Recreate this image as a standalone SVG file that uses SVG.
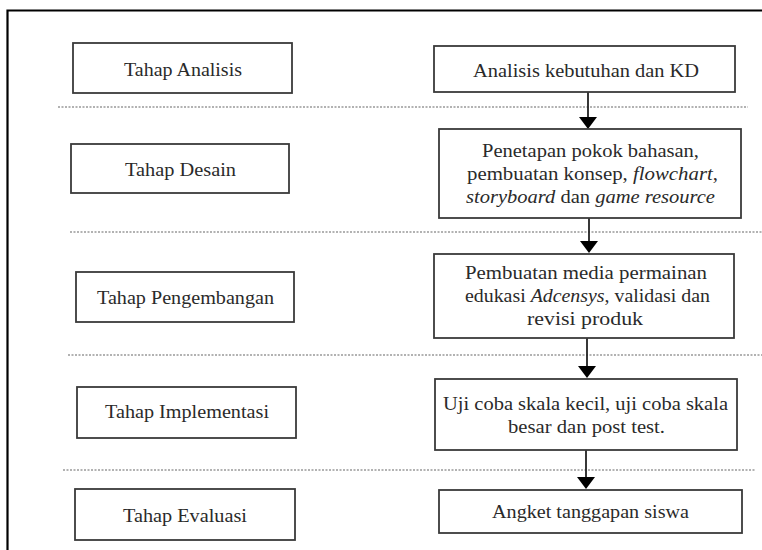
<svg xmlns="http://www.w3.org/2000/svg" width="762" height="550" viewBox="0 0 762 550">
<defs>
<style>
.box{fill:#fff;stroke:#3a3a3a;stroke-width:1.8}
.t{font-family:'Liberation Serif','DejaVu Serif','Times New Roman',serif;font-size:18.5px;fill:#2a2a2a;text-anchor:middle}
.i{font-style:italic}
.dash{stroke:#666;stroke-width:1.2;stroke-dasharray:2 1.5;fill:none}
.frame{stroke:#000;stroke-width:2.2;fill:none}
.ln{stroke:#222;stroke-width:1.8}
.hd{fill:#000}
</style>
</defs>
<rect width="762" height="550" fill="#fff"/>
<path class="frame" d="M7.5,550 V10.5 H762"/>
<g id="separators">
<line class="dash" x1="58" y1="107" x2="748" y2="107"/>
<line class="dash" x1="70" y1="232" x2="762" y2="232"/>
<line class="dash" x1="68" y1="355" x2="762" y2="355"/>
<line class="dash" x1="63" y1="470" x2="756" y2="470"/>
</g>
<g id="connectors">
<path class="ln" d="M588,92 V117"/>
<polygon class="hd" points="579,117 597,117 588,129"/>
<path class="ln" d="M589,218 V241"/>
<polygon class="hd" points="580,241 598,241 589,253"/>
<path class="ln" d="M587,338 V366"/>
<polygon class="hd" points="578,366 596,366 587,378"/>
<path class="ln" d="M586,450 V477"/>
<polygon class="hd" points="577,477 595,477 586,489"/>
</g>
<g id="tahap-analisis">
<rect class="box" x="73" y="43" width="219" height="50"/>
<text class="t" x="183" y="76" textLength="118" lengthAdjust="spacingAndGlyphs">Tahap Analisis</text>
</g>
<g id="tahap-desain">
<rect class="box" x="71" y="144" width="218" height="49"/>
<text class="t" x="180.5" y="176" textLength="111" lengthAdjust="spacingAndGlyphs">Tahap Desain</text>
</g>
<g id="tahap-pengembangan">
<rect class="box" x="76" y="272" width="218" height="50"/>
<text class="t" x="185.5" y="304" textLength="177" lengthAdjust="spacingAndGlyphs">Tahap Pengembangan</text>
</g>
<g id="tahap-implementasi">
<rect class="box" x="77" y="387" width="219" height="51"/>
<text class="t" x="187" y="418" textLength="164" lengthAdjust="spacingAndGlyphs">Tahap Implementasi</text>
</g>
<g id="tahap-evaluasi">
<rect class="box" x="75" y="489" width="220" height="51"/>
<text class="t" x="185" y="522" textLength="124" lengthAdjust="spacingAndGlyphs">Tahap Evaluasi</text>
</g>
<g id="analisis-kd">
<rect class="box" x="434" y="46" width="301" height="46"/>
<text class="t" x="586" y="77" textLength="226" lengthAdjust="spacingAndGlyphs">Analisis kebutuhan dan KD</text>
</g>
<g id="desain">
<rect class="box" x="439" y="129" width="302" height="89"/>
<text class="t" x="590.5" y="157" textLength="217" lengthAdjust="spacingAndGlyphs">Penetapan pokok bahasan,</text>
<text class="t" x="592.5" y="180" textLength="251" lengthAdjust="spacingAndGlyphs">pembuatan konsep, <tspan class="i">flowchart</tspan>,</text>
<text class="t" x="590.5" y="203" textLength="249" lengthAdjust="spacingAndGlyphs"><tspan class="i">storyboard</tspan> dan <tspan class="i">game resource</tspan></text>
</g>
<g id="pengembangan">
<rect class="box" x="434" y="254" width="300" height="84"/>
<text class="t" x="586" y="279" textLength="242" lengthAdjust="spacingAndGlyphs">Pembuatan media permainan</text>
<text class="t" x="587.5" y="302" textLength="245" lengthAdjust="spacingAndGlyphs">edukasi <tspan class="i">Adcensys</tspan>, validasi dan</text>
<text class="t" x="585" y="325" textLength="116" lengthAdjust="spacingAndGlyphs">revisi produk</text>
</g>
<g id="implementasi">
<rect class="box" x="435" y="379" width="302" height="71"/>
<text class="t" x="585.5" y="410" textLength="285" lengthAdjust="spacingAndGlyphs">Uji coba skala kecil, uji coba skala</text>
<text class="t" x="586.5" y="433" textLength="157" lengthAdjust="spacingAndGlyphs">besar dan post test.</text>
</g>
<g id="evaluasi">
<rect class="box" x="439" y="490" width="303" height="43"/>
<text class="t" x="590.5" y="518" textLength="197" lengthAdjust="spacingAndGlyphs">Angket tanggapan siswa</text>
</g>
</svg>
